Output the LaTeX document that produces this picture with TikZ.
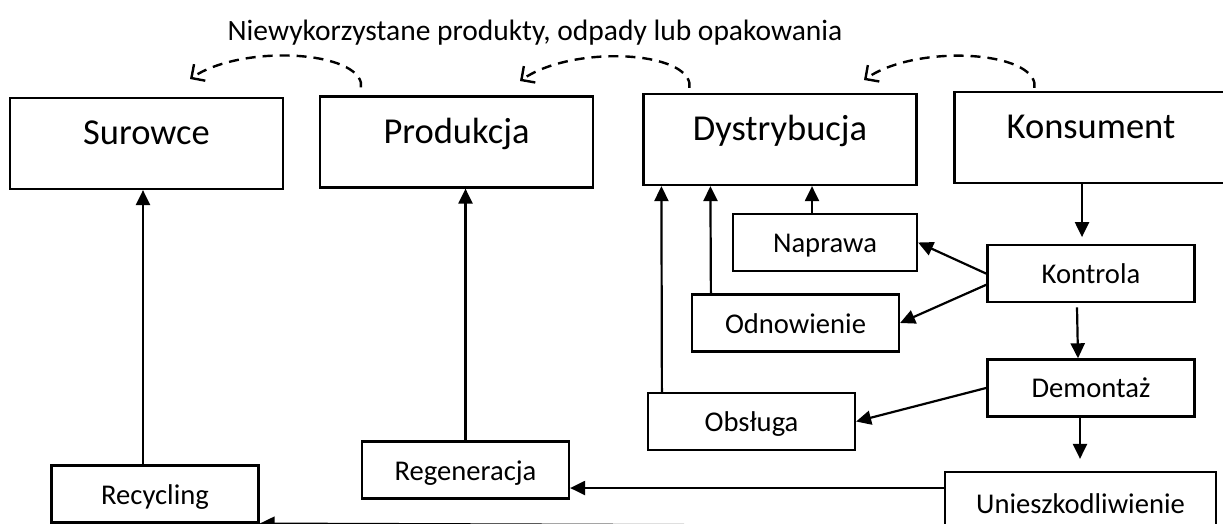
\documentclass[tikz,border=0pt]{standalone}
\usepackage{fontspec}
\setmainfont{Carlito}
\usepackage{tikz}
\usetikzlibrary{
  arrows.meta,
  positioning
}
\newcommand{\stagefont}{\fontsize{36.5}{40}\selectfont}
\newcommand{\stepfont}{\fontsize{28.6}{32}\selectfont}
\newcommand{\headfont}{\fontsize{29.5}{32}\selectfont}
\tikzset{
  stagebox/.style={
    rectangle, draw, line width=2.2pt, inner sep=0pt,
    minimum width=273pt, minimum height=91pt,
    text height=24pt, text depth=22pt, font=\stagefont
  },
  stepbox/.style={
    rectangle, draw, line width=2.2pt, inner sep=0pt,
    minimum width=207pt, minimum height=57pt,
    text height=20pt, text depth=0pt, font=\stepfont
  },
  myarrow/.style={-{Triangle[length=15pt,width=14pt]}, line width=2.2pt},
  backarc/.style={-{Straight Barb[length=10pt,width=20pt]}, line width=2.4pt,
    dash pattern=on 10pt off 7pt}
}

\begin{document}
\begin{tikzpicture}[
  x=1pt, y=-1pt,
  every node/.style = {align=center}
]
  \useasboundingbox (0,0) rectangle (1223,523);

  \node[font=\headfont, anchor=base] (head) at (535,40)
    {Niewykorzystane produkty, odpady lub opakowania};

  % main chain
  \node[stagebox] (sur) at (146.5,143.5) {Surowce};
  \node[stagebox] (prod) at (456.5,142) {Produkcja};
  \node[stagebox] (dys) at (780,139.5) {Dystrybucja};
  \node[stagebox] (kon) at (1091,137.5) {Konsument};

  % recovery steps
  \node[stepbox, below=60pt of kon] (kont) {Kontrola};
  \node[stepbox, below=55pt of kont] (dem) {Demontaż};
  \node[stepbox, minimum width=184pt] (nap) at (825,242.5) {Naprawa};
  \node[stepbox] (odn) at (795.5,323) {Odnowienie};
  \node[stepbox] (obs) at (751.5,421.5) {Obsługa};
  \node[stepbox] (reg) at (465.5,470) {Regeneracja};
  \node[stepbox] (rec) at (155,494) {Recycling};
  \node[stepbox, minimum width=271pt, minimum height=62pt] (uni) at (1080.5,503)
    {Unieszkodliwienie};

  % leftovers going back
  \coordinate (t1) at (190,79);
  \coordinate (t2) at (520,81);
  \coordinate (t3) at (864,80);
  \draw[backarc] ([xshift=42pt,yshift=8pt]prod.north west) -- ++(0,-5)
    .. controls (352,50) and (240,45) .. (t1);
  \draw[backarc] ([xshift=47pt,yshift=5pt]dys.north west) -- ++(0,-5)
    .. controls (682,50) and (570,46) .. (t2);
  \draw[backarc] ([xshift=81pt,yshift=3pt]kon.north west) -- ++(0,-5)
    .. controls (1027,50) and (914,45) .. (t3);

  % flows
  \draw[myarrow, shorten >=7pt] ([xshift=-9pt]kon.south) -- ([xshift=-9pt]kont.north);
  \draw[myarrow] (kont.west) -- (nap.east);
  \draw[myarrow] ([yshift=-11pt]kont.west) -- (odn.east);
  \draw[myarrow] ([xshift=-14pt,yshift=-4pt]kont.south) -- ([xshift=-13pt]dem.north);
  \draw[myarrow] (dem.west) -- (obs.east);
  \draw[myarrow, shorten >=12pt] ([xshift=-11pt]dem.south)
    -- ([xshift=-11pt]dem.south |- uni.north);

  \draw[myarrow] ([xshift=-13pt]nap.north) -- ([xshift=-13pt]nap.north |- dys.south);
  \draw[myarrow] ([xshift=20pt]odn.north west) -- ([xshift=68pt]dys.south west);
  \draw[myarrow] ([xshift=15pt]obs.north west) -- ([xshift=19pt]dys.south west);
  \draw[myarrow] (reg.north) -- (reg.north |- prod.south);
  \draw[myarrow] ([xshift=-12pt]rec.north) -- ([xshift=-12pt]rec.north |- sur.south);

  \draw[myarrow] (uni.west |- 0,488) -- (reg.east |- 0,488);
  \draw[myarrow] ([yshift=-23pt]uni.west) -- (rec.south east);

\end{tikzpicture}
\end{document}
